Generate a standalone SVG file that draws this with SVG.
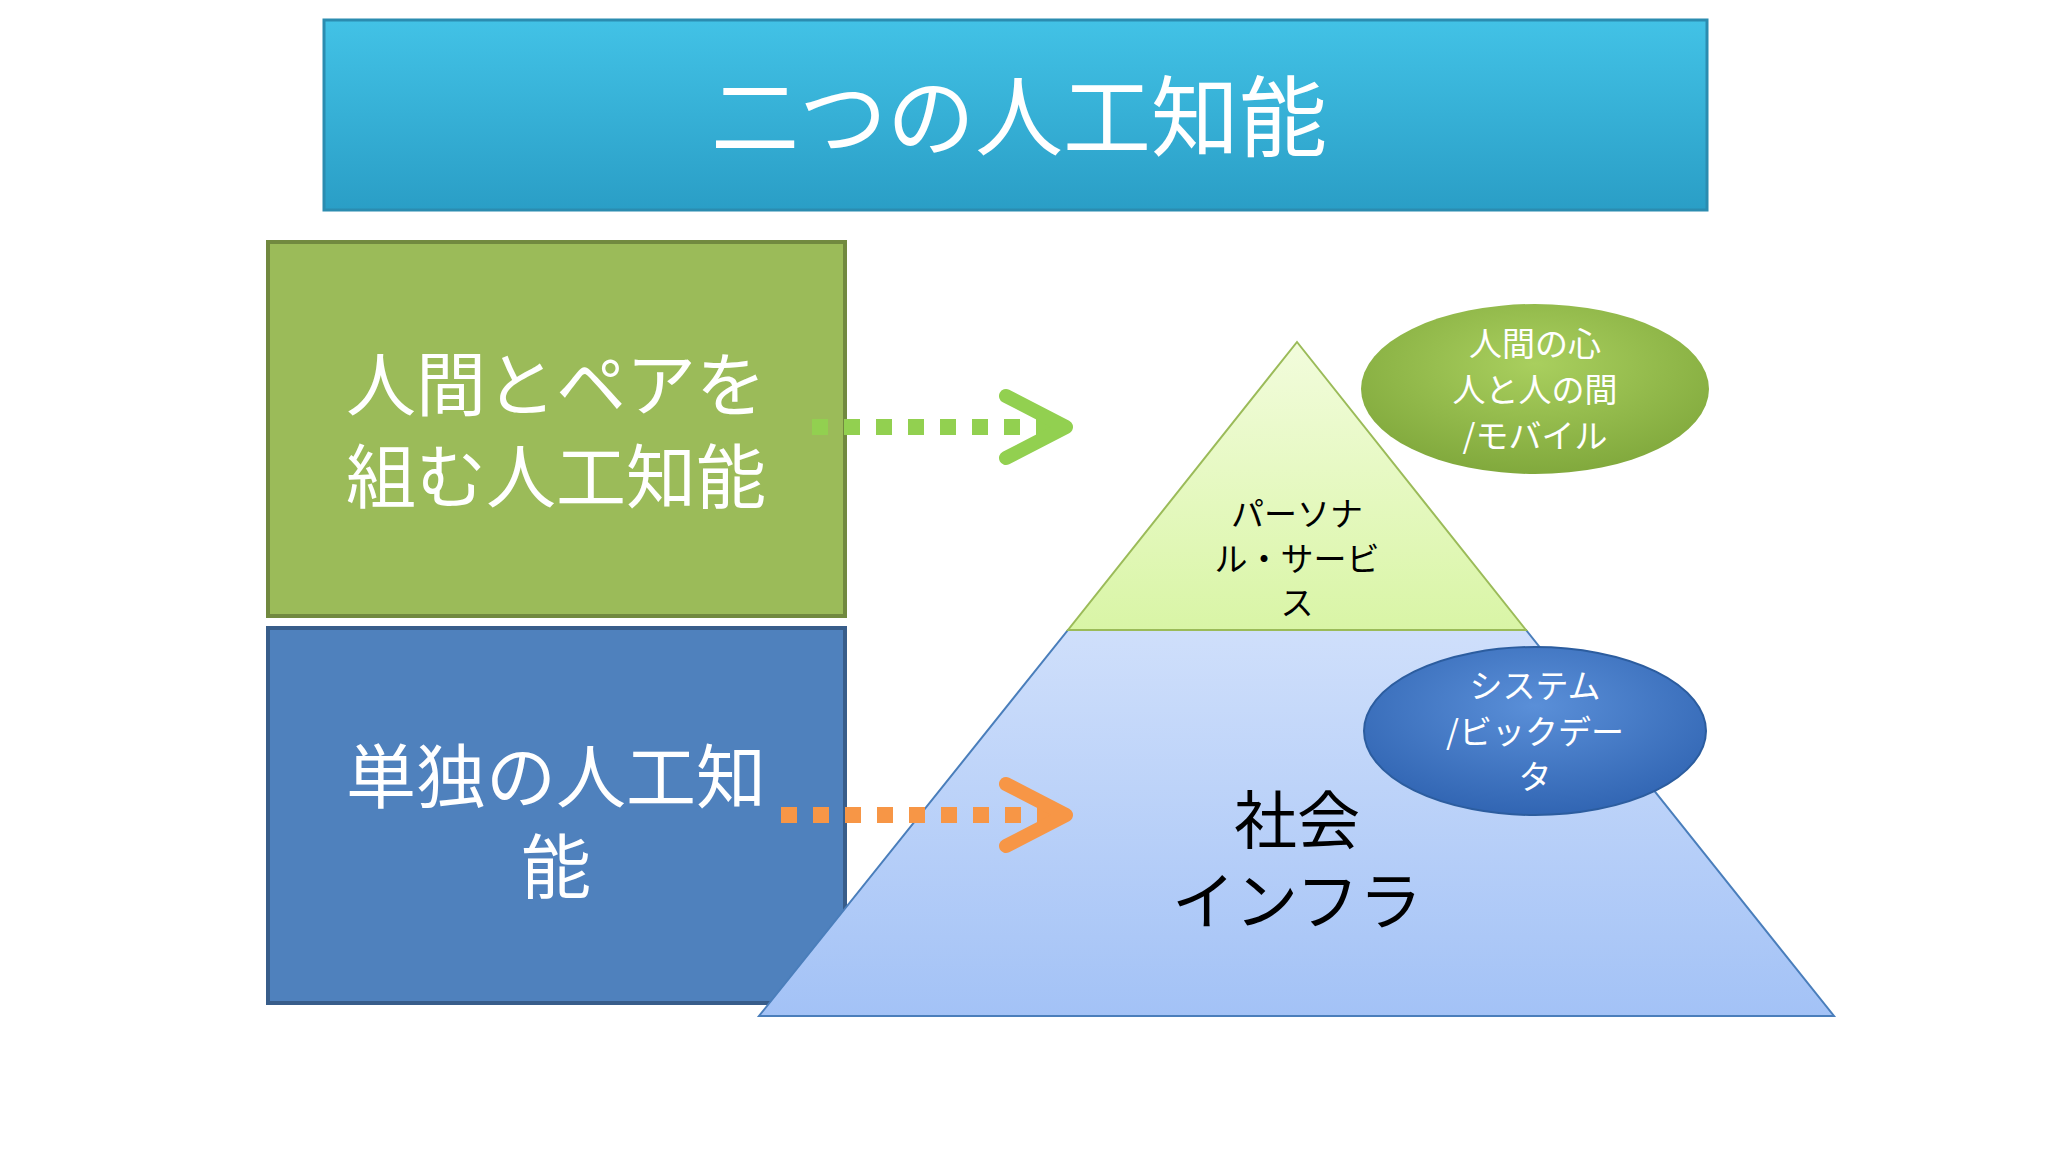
<svg xmlns="http://www.w3.org/2000/svg" width="2048" height="1152" viewBox="0 0 2048 1152">
<defs>
<linearGradient id="gt" x1="0" y1="0" x2="0" y2="1"><stop offset="0" stop-color="#42c2e6"/><stop offset="1" stop-color="#2a9ec6"/></linearGradient>
<linearGradient id="gp1" x1="0" y1="0" x2="0" y2="1"><stop offset="0" stop-color="#f2fcdc"/><stop offset="1" stop-color="#d9f5a6"/></linearGradient>
<linearGradient id="gp2" x1="0" y1="0" x2="0" y2="1"><stop offset="0" stop-color="#cfdffb"/><stop offset="1" stop-color="#a3c2f6"/></linearGradient>
<radialGradient id="ge1" cx="0.5" cy="0.35" r="0.7"><stop offset="0" stop-color="#a9cf5e"/><stop offset="1" stop-color="#7ea63a"/></radialGradient>
<radialGradient id="ge2" cx="0.5" cy="0.35" r="0.7"><stop offset="0" stop-color="#5a8fd8"/><stop offset="1" stop-color="#2e62b0"/></radialGradient>
</defs>
<style>
text{font-family:"Noto Sans CJK JP","Noto Sans",sans-serif;text-anchor:middle;dominant-baseline:central}
.w{fill:#fff}.k{fill:#000}
</style>
<rect width="2048" height="1152" fill="#fff"/>
<g id="title"><rect x="324" y="20" width="1383" height="190" fill="url(#gt)" stroke="#2b8cb0" stroke-width="3"/>
<text x="1019" y="110" class="w" font-size="88">二つの人工知能</text></g>
<g id="box-green"><rect x="268" y="242" width="577" height="374" fill="#9bbb59" stroke="#71893f" stroke-width="4"/>
<text x="556" y="380" class="w" font-size="70">人間とペアを</text><text x="556" y="472" class="w" font-size="70">組む人工知能</text></g>
<g id="box-blue"><rect x="268" y="628" width="577" height="375" fill="#4f81bd" stroke="#385d8a" stroke-width="4"/>
<text x="556" y="772" class="w" font-size="70">単独の人工知</text><text x="556" y="862" class="w" font-size="70">能</text></g>
<g id="pyramid-bottom"><polygon points="1068,630 1526,630 1834,1016 759,1016" fill="url(#gp2)" stroke="#4a7ebb" stroke-width="2"/>
<text x="1297" y="815" class="k" font-size="63">社会</text><text x="1297" y="896" class="k" font-size="63">インフラ</text></g>
<g id="pyramid-top"><polygon points="1297,342 1526,630 1068,630" fill="url(#gp1)" stroke="#9bbb59" stroke-width="2"/>
<text x="1297" y="512" class="k" font-size="33">パーソナ</text><text x="1297" y="557" class="k" font-size="33">ル・サービ</text><text x="1297" y="601" class="k" font-size="33">ス</text></g>
<g id="ellipse-green"><ellipse cx="1535" cy="389" rx="174" ry="85" fill="url(#ge1)"/>
<text x="1535" y="342" class="w" font-size="33">人間の心</text><text x="1535" y="388" class="w" font-size="33">人と人の間</text><text x="1535" y="434" class="w" font-size="33">/モバイル</text></g>
<g id="ellipse-blue"><ellipse cx="1535" cy="731" rx="171" ry="84" fill="url(#ge2)" stroke="#2c5d9f" stroke-width="2"/>
<text x="1535" y="684" class="w" font-size="33">システム</text><text x="1535" y="730" class="w" font-size="33">/ビックデー</text><text x="1535" y="775" class="w" font-size="33">タ</text></g>
<g id="connectors">
<line x1="812" y1="427" x2="1060" y2="427" stroke="#92d050" stroke-width="16" stroke-dasharray="16,16"/>
<polyline points="1006,396 1066,427 1006,458" fill="none" stroke="#92d050" stroke-width="14" stroke-linejoin="round" stroke-linecap="round"/>
<line x1="781" y1="815" x2="1060" y2="815" stroke="#f79646" stroke-width="16" stroke-dasharray="16,16"/>
<polyline points="1006,784 1066,815 1006,846" fill="none" stroke="#f79646" stroke-width="14" stroke-linejoin="round" stroke-linecap="round"/>
</g>
</svg>
